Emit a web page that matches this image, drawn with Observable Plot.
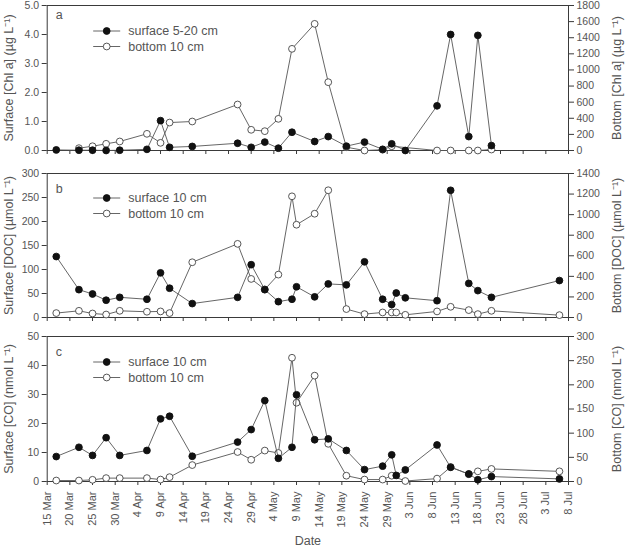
<!DOCTYPE html>
<html>
<head>
<meta charset="utf-8">
<script src="https://cdn.jsdelivr.net/npm/d3@7"></script>
<script src="https://cdn.jsdelivr.net/npm/@observablehq/plot@0.6"></script>
<style>
  body { margin: 0; background: #fff; }
  #chart { width: 625px; }
  #chart svg { display: block; }
</style>
</head>
<body>
<div id="chart"></div>
<script>
// ---- Sampling dates and measured values ----
const xTickLabels = ["15 Mar","20 Mar","25 Mar","30 Mar","4 Apr","9 Apr","14 Apr","19 Apr","24 Apr","29 Apr",
  "4 May","9 May","14 May","19 May","24 May","29 May","3 Jun","8 Jun","13 Jun","18 Jun","23 Jun","28 Jun","3 Jul","8 Jul"];

// (a) chlorophyll a
const chlSurfaceDates = ["17 Mar","22 Mar","25 Mar","28 Mar","31 Mar","6 Apr","9 Apr","11 Apr","16 Apr","26 Apr","29 Apr",
  "2 May","5 May","8 May","13 May","16 May","20 May","24 May","28 May","30 May","2 Jun","9 Jun","12 Jun","16 Jun","18 Jun","21 Jun"];
const chlSurface = [0.02, 0.01, 0.01, 0.0, 0.01, 0.04, 1.03, 0.11, 0.14, 0.25, 0.11,
  0.29, 0.08, 0.63, 0.31, 0.48, 0.15, 0.29, 0.04, 0.23, 0.0, 1.54, 4.0, 0.48, 3.97, 0.17];
const chlBottomDates = ["22 Mar","25 Mar","28 Mar","31 Mar","6 Apr","9 Apr","11 Apr","16 Apr","26 Apr","29 Apr",
  "2 May","5 May","8 May","13 May","16 May","20 May","24 May","28 May","30 May","9 Jun","12 Jun","16 Jun","18 Jun","21 Jun"];
const chlBottom = [29, 53, 83, 112, 207, 95, 347, 360, 571, 257,
  240, 393, 1262, 1572, 848, 41, 0, 10, 53, 0, 0, 0, 0, 12];

// (b) dissolved organic carbon
const docDates = ["17 Mar","22 Mar","25 Mar","28 Mar","31 Mar","6 Apr","9 Apr","11 Apr","16 Apr","26 Apr","29 Apr",
  "2 May","5 May","8 May","9 May","13 May","16 May","20 May","24 May","28 May","30 May","31 May","2 Jun",
  "9 Jun","12 Jun","16 Jun","18 Jun","21 Jun","6 Jul"];
const docSurface = [127, 58, 49, 36, 42, 38, 93, 61, 29, 42, 110,
  58, 33, 38, 64, 43, 70, 68, 116, 38, 27, 51, 41,
  35, 265, 71, 56, 42, 77];
const docBottom = [43, 65, 39, 29, 65, 56, 59, 43, 537, 716, 375,
  273, 417, 1178, 902, 1009, 1237, 82, 33, 49, 49, 49, 26,
  59, 104, 72, 33, 65, 23];

// (c) carbon monoxide
const coSurfaceDates = docDates;
const coSurface = [8.6, 11.8, 9.0, 15.1, 9.0, 10.7, 21.6, 22.5, 8.7, 13.6, 17.9,
  27.9, 8.0, 11.8, 29.9, 14.4, 14.7, 10.7, 4.1, 5.3, 9.2, 2.1, 4.0,
  12.6, 4.9, 2.6, 0.6, 1.7, 0.9];
const coBottomDates = ["17 Mar","22 Mar","25 Mar","28 Mar","31 Mar","6 Apr","9 Apr","11 Apr","16 Apr","26 Apr","29 Apr",
  "2 May","5 May","8 May","9 May","13 May","16 May","20 May","24 May","28 May","30 May","2 Jun",
  "9 Jun","12 Jun","16 Jun","18 Jun","21 Jun","6 Jul"];
const coBottom = [2, 2, 3.5, 7, 7, 7, 4, 9, 34, 61, 45,
  64, 59, 256, 163, 219, 78, 12, 4, 4, 12, 1,
  6, 30, 15, 21, 26, 21];

// Axis tick values
const chlLeftTicks = [0, 1, 2, 3, 4, 5];
const chlRightTicks = [0, 200, 400, 600, 800, 1000, 1200, 1400, 1600, 1800];
const docLeftTicks = [0, 50, 100, 150, 200, 250, 300];
const docRightTicks = [0, 200, 400, 600, 800, 1000, 1200, 1400];
const coLeftTicks = [0, 10, 20, 30, 40, 50];
const coRightTicks = [0, 50, 100, 150, 200, 250, 300];

// ---- Helpers ----
const FONT = "'Liberation Sans', Arial, Helvetica, sans-serif";
const INK = "#555";
const months = ["Jan","Feb","Mar","Apr","May","Jun","Jul","Aug","Sep","Oct","Nov","Dec"];
const parse = s => { const [d, m] = s.split(" "); return new Date(Date.UTC(2001, months.indexOf(m), +d)); };
const fmtDate = d => `${d.getUTCDate()} ${months[d.getUTCMonth()]}`;

// Panel letter and two-row legend, placed relative to the plot frame
function legendMark(letter, letterDy, labels, rowDy) {
  return (index, scales, values, dims) => {
    const g = d3.create("svg:g")
      .attr("font-family", FONT).attr("fill", INK).attr("font-size", 12.5).attr("text-anchor", "start");
    const x0 = dims.marginLeft, y0 = dims.marginTop;
    g.append("text").attr("x", x0 + 9).attr("y", y0 + letterDy).attr("dy", "0.35em").text(letter);
    labels.forEach((lab, i) => {
      const y = y0 + rowDy + i * 15.5;
      g.append("line").attr("x1", x0 + 46.5).attr("x2", x0 + 73.5).attr("y1", y).attr("y2", y)
        .attr("stroke", "#555").attr("stroke-width", 0.9);
      g.append("circle").attr("cx", x0 + 60).attr("cy", y).attr("r", 3.4)
        .attr("fill", i === 0 ? "#111" : "white").attr("stroke", i === 0 ? "#111" : "#444").attr("stroke-width", 0.9);
      g.append("text").attr("x", x0 + 81.5).attr("y", y).attr("dy", "0.35em").text(lab);
    });
    return g.node();
  };
}

function panel(o) {
  const leftMax = o.leftTicks[o.leftTicks.length - 1];
  const rightMax = o.rightTicks[o.rightTicks.length - 1];
  const k = leftMax / rightMax;
  const surf = o.surfDates.map((d, i) => ({date: parse(d), value: o.surf[i]}));
  const bot = o.botDates.map((d, i) => ({date: parse(d), value: o.bot[i] * k}));
  const xTicks = xTickLabels.map(parse);
  return Plot.plot({
    width: 625,
    height: o.height,
    marginLeft: 46.7,
    marginRight: 57,
    marginTop: o.marginTop,
    marginBottom: o.marginBottom,
    style: {fontFamily: FONT, color: INK, background: "white", overflow: "visible"},
    x: {type: "utc", domain: [xTicks[0], xTicks[xTicks.length - 1]]},
    y: {domain: [0, leftMax]},
    marks: [
      Plot.frame({stroke: "#3a3a3a", strokeWidth: 1}),
      Plot.axisX({
        ticks: xTicks, tickSize: 4, tickPadding: 6, fontSize: 11, stroke: "#3a3a3a",
        tickRotate: o.xLabels ? -90 : 0,
        tickFormat: o.xLabels ? fmtDate : () => "",
        label: null
      }),
      Plot.axisY({
        anchor: "left", ticks: o.leftTicks, tickSize: 5, tickPadding: 3, fontSize: 10.5, stroke: "#3a3a3a",
        tickFormat: o.leftFormat, label: null
      }),
      Plot.axisY({
        anchor: "right", ticks: o.rightTicks.map(t => t * k), tickSize: 5, tickPadding: 3, fontSize: 10.5, stroke: "#3a3a3a",
        tickFormat: d => String(Math.round(d / k)), label: null
      }),
      Plot.line(bot, {x: "date", y: "value", stroke: "#555", strokeWidth: 0.9}),
      Plot.dot(bot, {x: "date", y: "value", r: 3.4, fill: "white", stroke: "#444", strokeWidth: 0.9}),
      Plot.line(surf, {x: "date", y: "value", stroke: "#555", strokeWidth: 0.9}),
      Plot.dot(surf, {x: "date", y: "value", r: 3.4, fill: "#111", stroke: "#111", strokeWidth: 0.9}),
      Plot.text([o.leftTitle], {frameAnchor: "left", text: d => d, rotate: -90, dx: -38, fontSize: 12.5,
        textAnchor: "middle", lineAnchor: "middle", fill: INK}),
      Plot.text([o.rightTitle], {frameAnchor: "right", text: d => d, rotate: -90, dx: 48.5, fontSize: 12.5,
        textAnchor: "middle", lineAnchor: "middle", fill: INK}),
      ...(o.xLabels ? [Plot.text(["Date"], {frameAnchor: "bottom", text: d => d, dy: 63, fontSize: 12.5,
        textAnchor: "middle", fill: INK})] : []),
      legendMark(o.letter, o.letterDy, o.legend, o.rowDy)
    ]
  });
}

const chart = document.getElementById("chart");

chart.append(panel({
  height: 158, marginTop: 5, marginBottom: 8,
  leftTicks: chlLeftTicks, rightTicks: chlRightTicks, leftFormat: d3.format(".1f"),
  surfDates: chlSurfaceDates, surf: chlSurface, botDates: chlBottomDates, bot: chlBottom,
  leftTitle: "Surface [Chl a] (µg L⁻¹)", rightTitle: "Bottom [Chl a] (µg L⁻¹)",
  letter: "a", letterDy: 10, legend: ["surface 5-20 cm", "bottom 10 cm"], rowDy: 26,
  xLabels: false
}));

chart.append(panel({
  height: 167, marginTop: 15, marginBottom: 8,
  leftTicks: docLeftTicks, rightTicks: docRightTicks, leftFormat: d3.format("d"),
  surfDates: docDates, surf: docSurface, botDates: docDates, bot: docBottom,
  leftTitle: "Surface [DOC] (µmol L⁻¹)", rightTitle: "Bottom [DOC] (µmol L⁻¹)",
  letter: "b", letterDy: 16, legend: ["surface 10 cm", "bottom 10 cm"], rowDy: 25,
  xLabels: false
}));

chart.append(panel({
  height: 226, marginTop: 11, marginBottom: 70,
  leftTicks: coLeftTicks, rightTicks: coRightTicks, leftFormat: d3.format("d"),
  surfDates: coSurfaceDates, surf: coSurface, botDates: coBottomDates, bot: coBottom,
  leftTitle: "Surface [CO] (nmol L⁻¹)", rightTitle: "Bottom [CO] (nmol L⁻¹)",
  letter: "c", letterDy: 16, legend: ["surface 10 cm", "bottom 10 cm"], rowDy: 26,
  xLabels: true
}));
</script>
</body>
</html>
